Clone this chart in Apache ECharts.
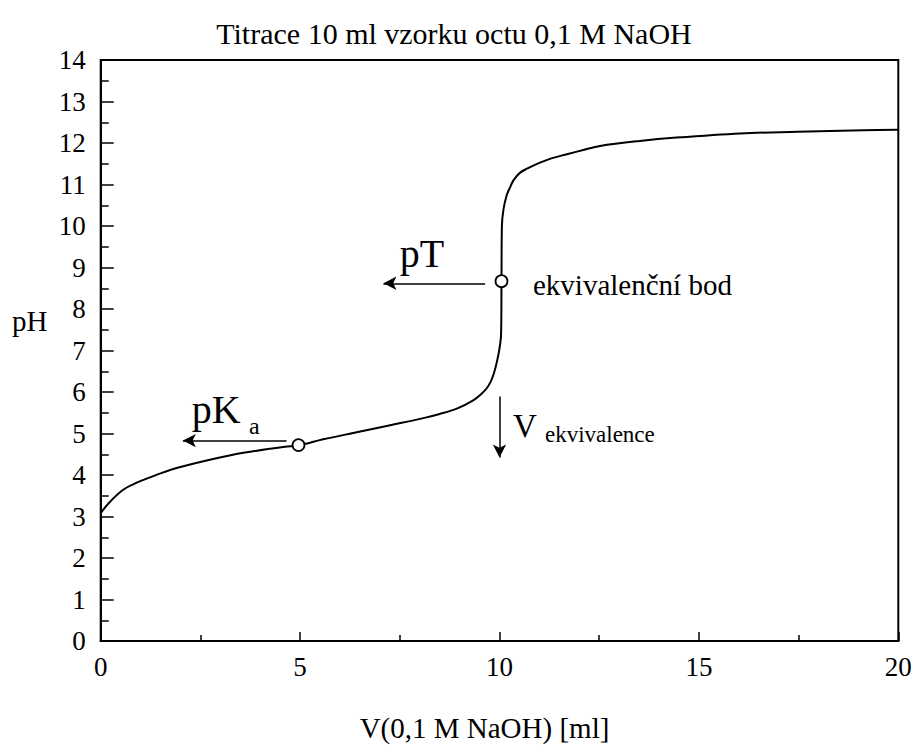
<!DOCTYPE html>
<html><head><meta charset="utf-8">
<script src="https://cdn.jsdelivr.net/npm/echarts@6/dist/echarts.min.js"></script>
<style>html,body{margin:0;padding:0;background:#fff}#c{width:918px;height:747px}</style>
</head><body><div id="c"></div><script>
// Titration curve
const volume = [0, 0.2, 0.53, 0.8, 1.12, 1.5, 1.95, 2.79, 3.62, 4.62, 4.96, 5.58, 6.42, 7.26, 8.09, 8.5, 8.93, 9.34, 9.55, 9.68, 9.78, 9.86, 9.94, 10.0, 10.04, 10.05, 10.06, 10.1, 10.18, 10.26, 10.35, 10.51, 10.69, 11.0, 11.3, 11.69, 12.1, 12.52, 13.52, 14.44, 16.04, 17.46, 19.13, 20];
const pHValues = [3.08, 3.32, 3.62, 3.77, 3.90, 4.04, 4.18, 4.38, 4.54, 4.68, 4.71, 4.86, 5.03, 5.20, 5.37, 5.47, 5.60, 5.80, 5.96, 6.09, 6.25, 6.45, 6.75, 7.05, 7.4, 8.67, 10.0, 10.4, 10.74, 10.92, 11.1, 11.28, 11.38, 11.52, 11.63, 11.73, 11.83, 11.93, 12.05, 12.13, 12.23, 12.27, 12.31, 12.32];
// marked points: half-neutralisation (pKa) and equivalence point
const markedPoints = [[4.96, 4.72], [10.05, 8.67]];
// arrows [from, to]
const arrows = [
  [[4.66, 4.83], [2.06, 4.83]],
  [[9.64, 8.62], [7.09, 8.62]],
  [[10.0, 5.89], [10.0, 4.42]]
];
const titleText = 'Titrace 10 ml vzorku octu 0,1 M NaOH';
const xName = 'V(0,1 M NaOH) [ml]';
const yName = 'pH';

const FONT = 'Liberation Serif';
const chart = echarts.init(document.getElementById('c'), null, {renderer: 'svg'});
const curve = volume.map((v, i) => [v, pHValues[i]]);

chart.setOption({
  animation: false,
  backgroundColor: '#fff',
  grid: {left: 100.7, right: 19.7, top: 60, bottom: 100, show: true, borderColor: '#000', borderWidth: 2, backgroundColor: 'transparent'},
  xAxis: {
    type: 'value', min: 0, max: 20, interval: 5,
    name: xName, nameLocation: 'middle', nameGap: 72,
    nameTextStyle: {fontFamily: FONT, fontSize: 29, color: '#000', padding: [0, 30, 0, 0]},
    axisLine: {show: true, lineStyle: {color: '#000', width: 2}},
    axisTick: {show: true, inside: true, length: 9, lineStyle: {color: '#000', width: 1.5}},
    minorTick: {show: true, splitNumber: 2, length: 6, lineStyle: {color: '#000', width: 1.5}},
    axisLabel: {fontFamily: FONT, fontSize: 27, color: '#000', margin: 12},
    splitLine: {show: false}
  },
  yAxis: {
    type: 'value', min: 0, max: 14, interval: 1,
    axisLine: {show: true, lineStyle: {color: '#000', width: 2}},
    axisTick: {show: true, inside: true, length: 13, lineStyle: {color: '#000', width: 1.5}},
    minorTick: {show: true, splitNumber: 2, length: 8, lineStyle: {color: '#000', width: 1.5}},
    axisLabel: {fontFamily: FONT, fontSize: 27, color: '#000', margin: 15},
    splitLine: {show: false}
  },
  series: [
    {
      type: 'line', data: curve, smooth: 0.35, showSymbol: false, symbol: 'none',
      lineStyle: {color: '#000', width: 2}, z: 2, silent: true,
      markLine: {
        silent: true, symbol: ['none', 'arrow'], symbolSize: [10, 13],
        label: {show: false}, lineStyle: {color: '#000', width: 1.5, type: 'solid', opacity: 1},
        itemStyle: {color: '#000'},
        emphasis: {disabled: true},
        data: arrows.map(a => [{coord: a[0]}, {coord: a[1]}])
      }
    },
    {
      type: 'scatter', data: markedPoints, symbol: 'circle', symbolSize: 12, z: 5, silent: true,
      itemStyle: {color: '#fff', borderColor: '#000', borderWidth: 1.8, opacity: 1}
    }
  ]
});

// annotation texts anchored in data coordinates
const annotations = [
  {text: 'pT', at: [7.5, 9.33], size: 40},
  {text: 'pK', at: [2.28, 5.58], size: 40},
  {text: 'a', at: [3.72, 5.18], size: 24},
  {text: 'ekvivalenční bod', at: [10.84, 8.58], size: 29},
  {text: 'V', at: [10.34, 5.19], size: 33},
  {text: 'ekvivalence', at: [11.14, 4.97], size: 23}
];
const g = annotations.map(a => {
  const p = chart.convertToPixel({gridIndex: 0}, a.at);
  return {type: 'text', x: p[0], y: p[1], silent: true,
    style: {text: a.text, fontFamily: FONT, fontSize: a.size, fill: '#000', align: 'left', verticalAlign: 'middle'}};
});
g.push({type: 'text', x: 454, y: 33, silent: true,
  style: {text: titleText, fontFamily: FONT, fontSize: 30, fill: '#000', align: 'center', verticalAlign: 'middle'}});
g.push({type: 'text', x: 12, y: 321, silent: true,
  style: {text: yName, fontFamily: FONT, fontSize: 29, fill: '#000', align: 'left', verticalAlign: 'middle'}});
chart.setOption({graphic: g});
</script></body></html>
